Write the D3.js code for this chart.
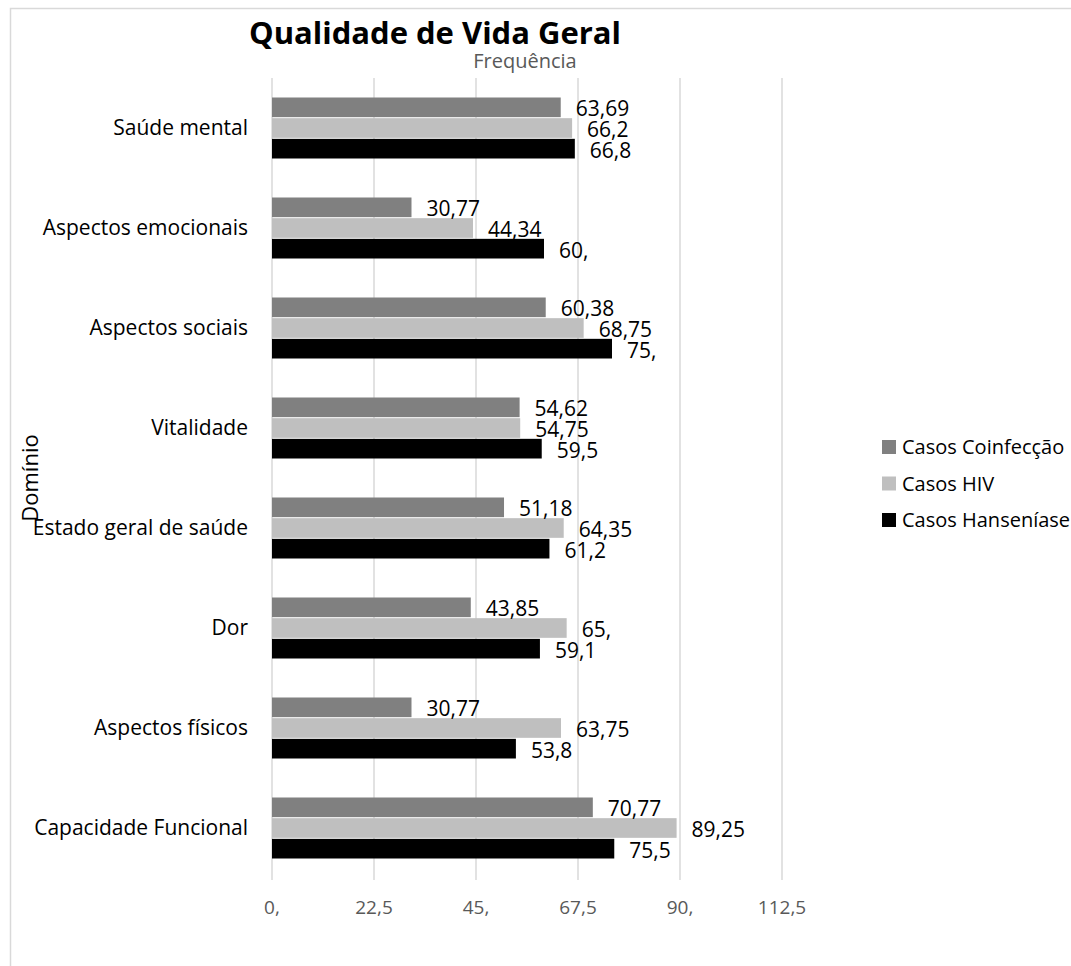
<!DOCTYPE html>
<html>
<head>
<meta charset="utf-8">
<script src="https://cdn.jsdelivr.net/npm/d3@7"></script>
<style>
  html, body { margin: 0; padding: 0; background: #ffffff; }
  svg { display: block; font-family: "Open Sans", sans-serif; }
</style>
</head>
<body>
<svg id="chart" width="1071" height="966"></svg>
<script>
// Dades del gràfic
const categories = [
    'Saúde mental',
    'Aspectos emocionais',
    'Aspectos sociais',
    'Vitalidade',
    'Estado geral de saúde',
    'Dor',
    'Aspectos físicos',
    'Capacidade Funcional'
];
const seriesNames = ['Casos Coinfecção', 'Casos HIV', 'Casos Hanseníase'];
const coinfeccao = [63.69, 30.77, 60.38, 54.62, 51.18, 43.85, 30.77, 70.77];
const hiv = [66.2, 44.34, 68.75, 54.75, 64.35, 65, 63.75, 89.25];
const hanseniase = [66.8, 60, 75, 59.5, 61.2, 59.1, 53.8, 75.5];
const tickValues = [0, 22.5, 45, 67.5, 90, 112.5];

const colors = ['#808080', '#bfbfbf', '#000000'];
const seriesValues = [coinfeccao, hiv, hanseniase];

// Format a l'estil del full de càlcul: "60," / "66,2" / "63,69"
function fmt(v) {
    const s = String(v).replace('.', ',');
    return s.includes(',') ? s : s + ',';
}

const svg = d3.select('#chart');

// Vora de l'àrea del gràfic
svg.append('path')
    .attr('d', 'M10.5,966 L10.5,8.5 L1071,8.5')
    .attr('fill', 'none')
    .attr('stroke', '#d9d9d9')
    .attr('stroke-width', 1.5);

const x = d3.scaleLinear().domain([0, 112.5]).range([272, 782]);
const y0 = d3.scaleBand().domain(categories).range([78, 878]).paddingInner(0.38).paddingOuter(0.19);
const y1 = d3.scaleBand().domain(seriesNames).range([0, y0.bandwidth()]);

// Línies de quadrícula
svg.append('g')
    .selectAll('line')
    .data(tickValues)
    .enter().append('line')
    .attr('x1', d => x(d))
    .attr('x2', d => x(d))
    .attr('y1', 78)
    .attr('y2', 880)
    .attr('stroke', '#d9d9d9')
    .attr('stroke-width', 1.5);

// Etiquetes de l'eix X
svg.append('g')
    .selectAll('text')
    .data(tickValues)
    .enter().append('text')
    .attr('x', d => x(d))
    .attr('y', 914)
    .attr('text-anchor', 'middle')
    .attr('fill', '#595959')
    .style('font-size', '19px')
    .text(d => fmt(d));

// Barres
const rows = categories.map((c, i) => ({
    category: c,
    values: seriesNames.map((s, j) => ({ series: s, value: seriesValues[j][i], color: colors[j] }))
}));

const groups = svg.append('g')
    .selectAll('g')
    .data(rows)
    .enter().append('g')
    .attr('transform', d => `translate(0,${y0(d.category)})`);

groups.selectAll('rect')
    .data(d => d.values)
    .enter().append('rect')
    .attr('x', x(0))
    .attr('y', d => y1(d.series) + 0.5)
    .attr('width', d => x(d.value) - x(0))
    .attr('height', y1.bandwidth() - 1)
    .attr('fill', d => d.color);

groups.selectAll('text.value')
    .data(d => d.values)
    .enter().append('text')
    .attr('class', 'value')
    .attr('x', d => x(d.value) + 15)
    .attr('y', d => y1(d.series) + y1.bandwidth() / 2 + 9)
    .attr('fill', '#000000')
    .style('font-size', '21px')
    .text(d => fmt(d.value));

// Etiquetes de categoria
svg.append('g')
    .selectAll('text')
    .data(categories)
    .enter().append('text')
    .attr('x', 248)
    .attr('y', d => y0(d) + y0.bandwidth() / 2 + 7)
    .attr('text-anchor', 'end')
    .attr('fill', '#000000')
    .style('font-size', '21px')
    .text(d => d);

// Títols
svg.append('text')
    .attr('x', 435)
    .attr('y', 44)
    .attr('text-anchor', 'middle')
    .style('font-size', '31px')
    .style('font-weight', 'bold')
    .text('Qualidade de Vida Geral');

svg.append('text')
    .attr('x', 525)
    .attr('y', 68)
    .attr('text-anchor', 'middle')
    .attr('fill', '#595959')
    .style('font-size', '20px')
    .text('Frequência');

svg.append('text')
    .attr('transform', 'translate(38,478) rotate(-90)')
    .attr('text-anchor', 'middle')
    .style('font-size', '22px')
    .text('Domínio');

// Llegenda
const legend = svg.append('g')
    .selectAll('g')
    .data(seriesNames)
    .enter().append('g')
    .attr('transform', (d, i) => `translate(882,${447 + i * 36.5})`);

legend.append('rect')
    .attr('x', 0)
    .attr('y', -7)
    .attr('width', 14)
    .attr('height', 14)
    .attr('fill', (d, i) => colors[i]);

legend.append('text')
    .attr('x', 20)
    .attr('y', 7)
    .style('font-size', '20px')
    .text(d => d);
</script>
</body>
</html>
